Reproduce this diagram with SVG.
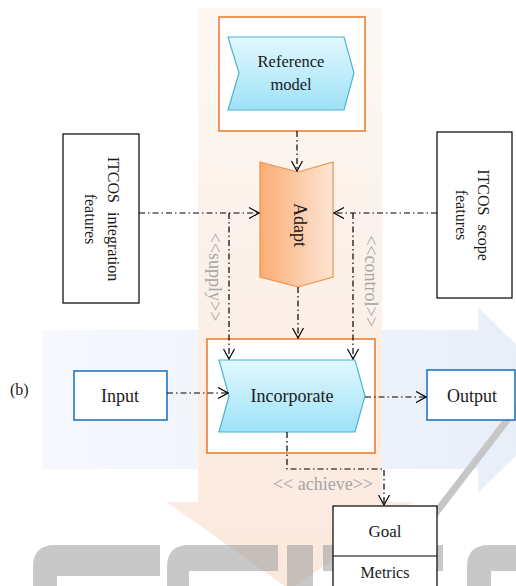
<svg xmlns="http://www.w3.org/2000/svg" width="516" height="586" viewBox="0 0 516 586">
<defs>
<linearGradient id="gOr" x1="0" y1="0" x2="0" y2="1"><stop offset="0" stop-color="#fdf8f4"/><stop offset="1" stop-color="#fbe8dc"/></linearGradient>
<linearGradient id="gBl" x1="0" y1="0" x2="1" y2="0"><stop offset="0" stop-color="#f6f8fd"/><stop offset="1" stop-color="#e7edf8"/></linearGradient>
<linearGradient id="gCy" x1="0" y1="0" x2="0" y2="1"><stop offset="0" stop-color="#e3f8fe"/><stop offset="1" stop-color="#9de2f7"/></linearGradient>
<linearGradient id="gAd" x1="0" y1="0" x2="1" y2="0"><stop offset="0" stop-color="#fbad75"/><stop offset="1" stop-color="#fde5d4"/></linearGradient>
<marker id="arr" viewBox="0 0 12 12" refX="11" refY="6" markerWidth="12" markerHeight="12" markerUnits="userSpaceOnUse" orient="auto"><path d="M1,0.5 L11,6 L1,11.5" fill="none" stroke="#000" stroke-width="1.2"/></marker>
<style>
.t{font-family:"Liberation Serif","Times New Roman",serif;fill:#1a1a1a;}
.g{font-family:"Liberation Serif","Times New Roman",serif;fill:#a6a6a6;font-size:18px;}
.ob{fill:#fff;stroke:#ed7d31;stroke-width:1.6;}
.bb{fill:#fff;stroke:#1f77c6;stroke-width:1.6;}
.kb{fill:#fff;stroke:#000;stroke-width:1.2;}
.cy{fill:url(#gCy);stroke:#4fb3cf;stroke-width:1.2;}
.c{fill:none;stroke:#000;stroke-width:1.2;stroke-dasharray:6 3 1.5 3;marker-end:url(#arr);}
.wm{fill:#9a9a9a;fill-opacity:0.55;}
</style>
</defs>
<g id="background">
<path d="M42,330 H478 V307 L572,400 L478,493 V469 H42 Z" fill="url(#gBl)"/>
<path d="M198,8 H382 V502 H413 L290,590 L167,502 H198 Z" fill="url(#gOr)"/>
<line x1="398" y1="562" x2="524" y2="398" stroke="#c6c6c6" stroke-width="7"/>
<g class="wm">
<path d="M33,590 V567 Q33,545 55,545 H160 V576 H57 V590 Z"/>
<path d="M167,590 V567 Q167,545 189,545 H278 V571 H189 V590 Z"/>
<rect x="287" y="545" width="26" height="45"/>
<rect x="323" y="545" width="120" height="26"/>
<path d="M467,590 V567 Q467,545 489,545 H520 V571 H491 V590 Z"/>
</g>
</g>
<text class="t" x="10" y="395" font-size="16">(b)</text>
<g id="reference-model">
<rect class="ob" x="219" y="17" width="146" height="114"/>
<path class="cy" d="M228,37 H344 L354,73 L344,110 H228 L239,73 Z"/>
<text class="t" x="291" y="67" font-size="16.5" text-anchor="middle">Reference</text>
<text class="t" x="291" y="90" font-size="16.5" text-anchor="middle">model</text>
</g>
<g id="adapt">
<path d="M260,162 L298,172 L333,162 V277 L298,287 L260,277 Z" fill="url(#gAd)" stroke="#f0913f" stroke-width="1.2"/>
<text class="t" transform="translate(297,225) rotate(90)" y="3" font-size="18" text-anchor="middle">Adapt</text>
</g>
<g id="itcos-integration">
<rect class="kb" x="63" y="134" width="76" height="169"/>
<text class="t" transform="translate(101,219) rotate(90)" font-size="16" text-anchor="middle" word-spacing="5"><tspan x="0" y="-7">ITCOS integration</tspan><tspan x="0" y="16">features</tspan></text>
</g>
<g id="itcos-scope">
<rect class="kb" x="437" y="132" width="75" height="166"/>
<text class="t" transform="translate(474.5,215) rotate(90)" font-size="16" text-anchor="middle" word-spacing="5"><tspan x="0" y="-3">ITCOS scope</tspan><tspan x="0" y="19">features</tspan></text>
</g>
<g id="incorporate">
<rect class="ob" x="207" y="339" width="168" height="114"/>
<path class="cy" d="M219,360 H355 L365,396 L355,432 H219 L229,396 Z"/>
<text class="t" x="292" y="402" font-size="18" text-anchor="middle">Incorporate</text>
</g>
<g id="input">
<rect class="bb" x="74" y="371" width="93" height="49"/>
<text class="t" x="120" y="402" font-size="18" text-anchor="middle">Input</text>
</g>
<g id="output">
<rect class="bb" x="427" y="370" width="88" height="50"/>
<text class="t" x="472" y="402" font-size="18" text-anchor="middle">Output</text>
</g>
<g id="goal">
<rect class="kb" x="333" y="506" width="104" height="90"/>
<line x1="333" y1="556" x2="437" y2="556" stroke="#000" stroke-width="1.2"/>
<text class="t" x="385" y="537" font-size="17" text-anchor="middle">Goal</text>
<text class="t" x="385" y="578" font-size="16" text-anchor="middle">Metrics</text>
</g>
<g id="connectors">
<path class="c" d="M297,131 V171"/>
<path class="c" d="M139,213 H259"/>
<path class="c" d="M437,213 H334"/>
<path class="c" d="M229,213 V359"/>
<path class="c" d="M353,213 V359"/>
<path class="c" d="M298,287 V338"/>
<path class="c" d="M167,393 H228"/>
<path class="c" d="M365,397 H426"/>
<path class="c" d="M287,432 V469 H384 V505"/>
</g>
<g id="labels">
<text class="g" transform="translate(213,277) rotate(90)" y="4" text-anchor="middle">&lt;&lt;supply&gt;&gt;</text>
<text class="g" transform="translate(369,281) rotate(90)" y="4" text-anchor="middle">&lt;&lt;control&gt;&gt;</text>
<text class="g" x="323" y="490" text-anchor="middle">&lt;&lt; achieve&gt;&gt;</text>
</g>
</svg>
